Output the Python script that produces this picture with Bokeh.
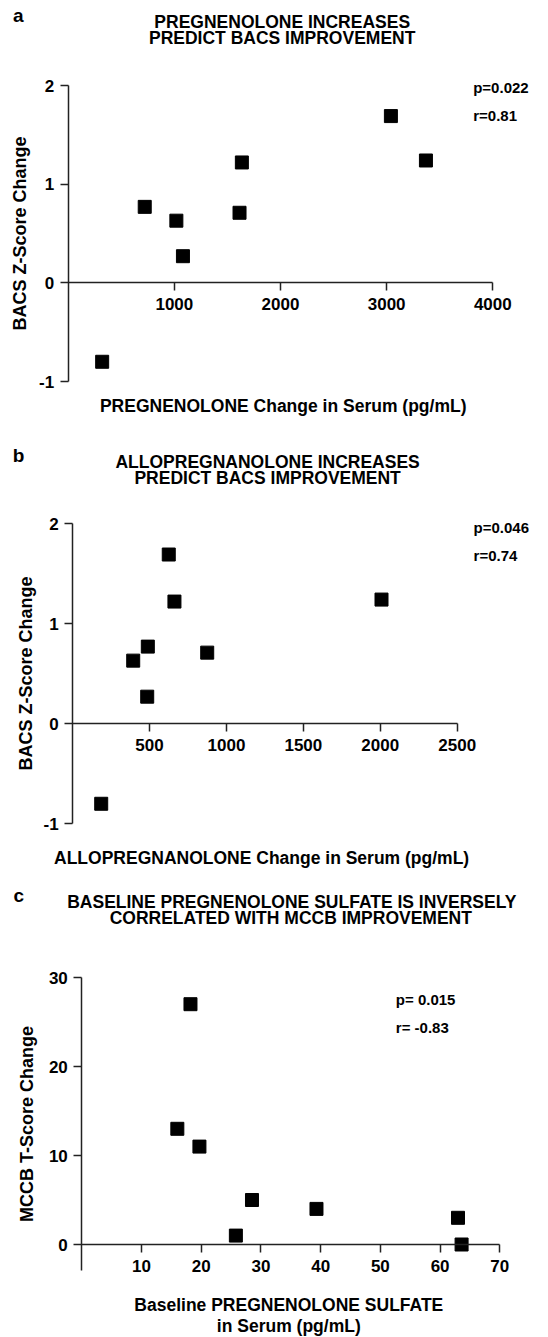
from bokeh.plotting import figure
from bokeh.models import Label, FixedTicker, Range1d
from bokeh.layouts import column
from bokeh.embed import file_html
from bokeh.resources import INLINE

FONT = "Liberation Sans"
W = 548

# ---- data ----
# Panel a: pregnenolone change vs BACS z-score change
a_x = [3040, 3370, 1636, 721, 1019, 1614, 1081, 320]
a_y = [1.69, 1.24, 1.22, 0.77, 0.63, 0.71, 0.27, -0.80]
a_xticks = [1000, 2000, 3000, 4000]
a_yticks = [-1, 0, 1, 2]

# Panel b: allopregnanolone change vs BACS z-score change
b_x = [625, 2008, 662, 489, 394, 875, 485, 186]
b_y = [1.69, 1.24, 1.22, 0.77, 0.63, 0.71, 0.27, -0.80]
b_xticks = [500, 1000, 1500, 2000, 2500]
b_yticks = [-1, 0, 1, 2]

# Panel c: baseline pregnenolone sulfate vs MCCB T-score change
c_x = [18.2, 16.0, 19.7, 25.8, 28.5, 39.3, 63.0, 63.6]
c_y = [27, 13, 11, 1, 5, 4, 3, 0]
c_xticks = [10, 20, 30, 40, 50, 60, 70]
c_yticks = [0, 10, 20, 30]

TITLE_SIZE = "17.5px"
XLAB_SIZE = "17.5px"
YLAB_SIZE = "18px"
TICK_SIZE = "17px"
STAT_SIZE = "15px"
LETTER_SIZE = "19px"


def make_panel(xs, ys, xbox, ybox, ybounds, box_px, H, xticks, yticks, ylabel, ylab_standoff):
    x0, x1 = xbox
    y0, y1 = ybox
    L, T, R, B = box_px
    sx = (x1 - x0) / (R - L)
    sy = (y1 - y0) / (B - T)
    xr = Range1d(x0 - L * sx, x1 + (W - R) * sx)
    yr = Range1d(y0 - (H - B) * sy, y1 + T * sy)
    p = figure(width=W, height=H, x_range=xr, y_range=yr,
               output_backend="svg", toolbar_location=None, title=None,
               min_border=0)
    p.outline_line_color = None
    p.xgrid.visible = False
    p.ygrid.visible = False
    p.background_fill_color = "white"
    p.border_fill_color = "white"

    for ax, ticks in ((p.xaxis[0], xticks), (p.yaxis[0], yticks)):
        ax.ticker = FixedTicker(ticks=ticks, minor_ticks=[])
        ax.major_label_overrides = {t: str(t) for t in ticks}
        ax.axis_line_color = "#222222"
        ax.axis_line_width = 1.5
        ax.major_tick_line_color = "#222222"
        ax.major_tick_line_width = 1.5
        ax.major_tick_out = 8
        ax.major_tick_in = 0
        ax.minor_tick_out = 0
        ax.minor_tick_in = 0
        ax.major_label_text_font = FONT
        ax.major_label_text_font_style = "bold"
        ax.major_label_text_font_size = TICK_SIZE
        ax.major_label_text_color = "black"
        ax.fixed_location = 0
    p.xaxis[0].bounds = (x0, x1)
    p.yaxis[0].bounds = ybounds
    p.xaxis[0].major_label_standoff = 7
    p.yaxis[0].major_label_standoff = 6
    p.yaxis[0].axis_label = ylabel
    p.yaxis[0].axis_label_text_font = FONT
    p.yaxis[0].axis_label_text_font_style = "bold"
    p.yaxis[0].axis_label_text_font_size = YLAB_SIZE
    p.yaxis[0].axis_label_text_color = "black"
    p.yaxis[0].axis_label_standoff = ylab_standoff

    p.scatter(xs, ys, marker="square", size=13, fill_color="black", line_color="black")
    p._box_origin = (x0, y1)
    return p


def txt(p, text, dx, dy, size, align="left"):
    # dx, dy: pixels from the data box's top-left corner (dy measured downward)
    ox, oy = p._box_origin
    p.add_layout(Label(x=ox, y=oy, x_offset=dx, y_offset=-dy,
                       text=text, text_font=FONT, text_font_size=size,
                       text_font_style="bold", text_align=align,
                       text_baseline="middle", text_color="black"))


# Panel a  (canvas 0..430)
pa = make_panel(a_x, a_y, (0, 4000), (-1, 2), (-1, 2), (67.7, 85, 492.3, 381), 430,
                a_xticks, a_yticks, "BACS Z-Score Change", 6)
txt(pa, "a", -50, -70, LETTER_SIZE, "center")
txt(pa, "PREGNENOLONE INCREASES", 214, -64, TITLE_SIZE, "center")
txt(pa, "PREDICT BACS IMPROVEMENT", 214, -48, TITLE_SIZE, "center")
txt(pa, "p=0.022", 405, 2, STAT_SIZE)
txt(pa, "r=0.81", 405, 30, STAT_SIZE)
txt(pa, "PREGNENOLONE Change in Serum (pg/mL)", 215, 320, XLAB_SIZE, "center")

# Panel b  (canvas 430..868)
pb = make_panel(b_x, b_y, (0, 2500), (-1, 2), (-1, 2), (72.1, 93, 456.7, 393.3), 438,
                b_xticks, b_yticks, "BACS Z-Score Change", 4)
txt(pb, "b", -54, -68, LETTER_SIZE, "center")
txt(pb, "ALLOPREGNANOLONE INCREASES", 195, -62, TITLE_SIZE, "center")
txt(pb, "PREDICT BACS IMPROVEMENT", 195, -46, TITLE_SIZE, "center")
txt(pb, "p=0.046", 401, 4, STAT_SIZE)
txt(pb, "r=0.74", 401, 32, STAT_SIZE)
txt(pb, "ALLOPREGNANOLONE Change in Serum (pg/mL)", 189, 334, XLAB_SIZE, "center")

# Panel c  (canvas 868..1337)
pc = make_panel(c_x, c_y, (0, 70), (0, 30), (-2.92, 30), (81.3, 109, 499.3, 376), 469,
                c_xticks, c_yticks, "MCCB T-Score Change", 9)
txt(pc, "c", -63, -82, LETTER_SIZE, "center")
txt(pc, "BASELINE PREGNENOLONE SULFATE IS INVERSELY", 210, -76, TITLE_SIZE, "center")
txt(pc, "CORRELATED WITH MCCB IMPROVEMENT", 209, -60, TITLE_SIZE, "center")
txt(pc, "p= 0.015", 314, 22, STAT_SIZE)
txt(pc, "r= -0.83", 314, 50, STAT_SIZE)
txt(pc, "Baseline PREGNENOLONE SULFATE", 207, 327, XLAB_SIZE, "center")
txt(pc, "in Serum (pg/mL)", 207, 348, XLAB_SIZE, "center")

layout = column(pa, pb, pc, spacing=0)
open("out.html", "w").write(file_html(layout, INLINE))
